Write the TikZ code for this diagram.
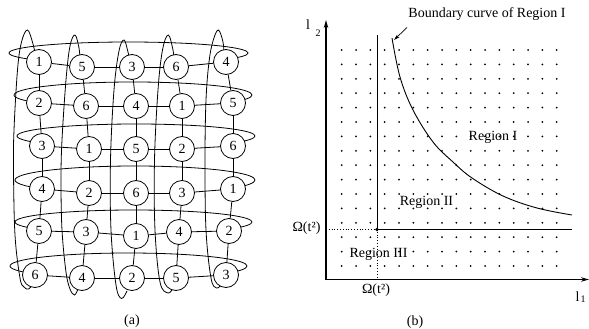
\documentclass[tikz,border=0pt]{standalone}
\usepackage{fontspec}
\setmainfont{Liberation Serif}
\usetikzlibrary{arrows.meta,calc}
\pgfdeclarelayer{background}
\pgfsetlayers{background,main}
\begin{document}
\begin{tikzpicture}[x=1pt,y=-1pt,
  every node/.style={font=\fontsize{14}{16}\selectfont, inner sep=0pt},
  vnode/.style={circle, draw, fill=white, minimum size=25pt, line width=0.8pt},
  ring/.style={line width=0.8pt},
  edge/.style={line width=0.8pt},
  axis/.style={line width=1.1pt},
  bline/.style={line width=1pt},
  subs/.style={font=\fontsize{10}{12}\selectfont},
  ]
\useasboundingbox (0,0) rectangle (589,329);

% ---------- (a) ----------
\foreach \r/\c/\x/\y/\t in {
  1/1/39/62/1, 1/2/82/67/5, 1/3/132/67/3, 1/4/176/67/6, 1/5/226/62/4,
  2/1/39/103/2, 2/2/86/106/6, 2/3/136/106/4, 2/4/182/106/1, 2/5/233/103/5,
  3/1/42/146/3, 3/2/89/149/1, 3/3/136/149/5, 3/4/182/149/2, 3/5/233/146/6,
  4/1/42/189/4, 4/2/89/193/2, 4/3/136/193/6, 4/4/182/193/3, 4/5/233/189/1,
  5/1/39/231/5, 5/2/86/232/3, 5/3/136/236/1, 5/4/179/232/4, 5/5/229/231/2,
  6/1/35/275/6, 6/2/82/278/4, 6/3/132/278/2, 6/4/176/278/5, 6/5/226/275/3}
  \node[vnode] (n\r\c) at (\x,\y) {\t};

\begin{pgfonlayer}{background}
  % grid edges
  \foreach \r in {1,...,6} \foreach \c in {1,...,4} {
    \pgfmathtruncatemacro\cn{\c+1}
    \draw[edge] (n\r\c) -- (n\r\cn);
  }
  \foreach \r in {1,...,5} \foreach \c in {1,...,5} {
    \pgfmathtruncatemacro\rn{\r+1}
    \draw[edge] (n\r\c) -- (n\rn\c);
  }
  % horizontal rings
  \foreach \cx/\cy/\rxx/\ryy in {128.5/53/119.5/11, 133/95/119/13, 136/136/119/12,
                             135/180/120/14, 133.5/222/118.5/12, 128.5/266/118.5/13}
    \draw[ring] ({\cx-0.81915*\rxx},{\cy+0.57358*\ryy}) arc[start angle=145, end angle=395, x radius=\rxx, y radius=\ryy];
  % vertical rings
  \draw[ring] plot[smooth, tension=0.6] coordinates {(36,58) (33,44) (27.5,30) (21.5,42) (17.5,70) (14,130) (13.5,170) (15,235) (20,278) (24,287) (28.5,289) (33,284)};
  \draw[ring] plot[smooth, tension=0.6] coordinates {(80,60) (79,48) (75,35) (70,46) (66,80) (62,140) (61,180) (62,230) (66,272) (70,289) (74.5,295) (78,289)};
  \draw[ring] plot[smooth, tension=0.6] coordinates {(130,62) (128,52) (124,40) (119,51) (114,90) (110.5,160) (111,230) (116,285) (121.5,298.5) (127,291)};
  \draw[ring] plot[smooth, tension=0.6] coordinates {(174,60) (173,50) (168.3,35) (162.5,50) (158,90) (154.5,160) (155,230) (160,282) (168,293) (173,288)};
  \draw[ring] plot[smooth, tension=0.6] coordinates {(224,55) (223,42) (218.3,30) (213,41) (209,62) (206,100) (205,160) (206,230) (211,278) (216.5,288) (222,284)};
\end{pgfonlayer}

\node (capa) at (132,321) {(a)};

% ---------- (b) ----------
\foreach \i in {0,...,15} \foreach \j in {0,...,15}
  \fill (341.7+\i*14.333, 50+\j*14.4) circle (1.0);

\coordinate (O) at (326,279.5);
\coordinate (ytop) at (326,20);
\coordinate (xend) at (589,279.5);
\draw[axis, {Stealth[length=8pt,width=4.5pt]}-{Stealth[length=8pt,width=4.5pt]}] (ytop) -- (O) -- (xend);

\coordinate (P) at (377,229.5);
\coordinate (vtop) at (377,35);
\coordinate (hend) at (572,229.5);
\coordinate (yP) at (326,229.5);
\coordinate (xP) at (377,279.5);
\draw[bline] (vtop) -- (P) -- (hend);
\draw[dotted, line width=0.8pt] (yP) -- (P) -- (xP);
\fill (P) circle (1.8);

\coordinate (ctop) at (392,38);
\draw[line width=0.9pt] plot[smooth, tension=0.6] coordinates {(ctop) (400,77) (413,110) (433,142) (453,162) (472,178) (503,196) (537,208) (572,215)};

\node (bcl) at (487,14) {Boundary curve of Region I};
\coordinate (astart) at (407,27.5);
\coordinate (aend) at (394,40);
\draw[line width=0.7pt, -{Stealth[length=6pt,width=3.5pt]}] (astart) -- (aend);

\node (l2) at (308,25) {l};
\node[subs] (l2s) at (318,33) {2};
\node (l1) at (577.5,296.5) {l};
\node[subs] (l1s) at (583,299) {1};

\node (om1) at (306.5,228.5) {Ω(t²)};
\node (om2) at (376,290) {Ω(t²)};

\node (r1) at (493,137) {Region I};
\node (r2) at (426.5,202) {Region II};
\node (r3) at (378.5,254.5) {Region III};

\node (capb) at (415,322) {(b)};
\end{tikzpicture}
\end{document}
